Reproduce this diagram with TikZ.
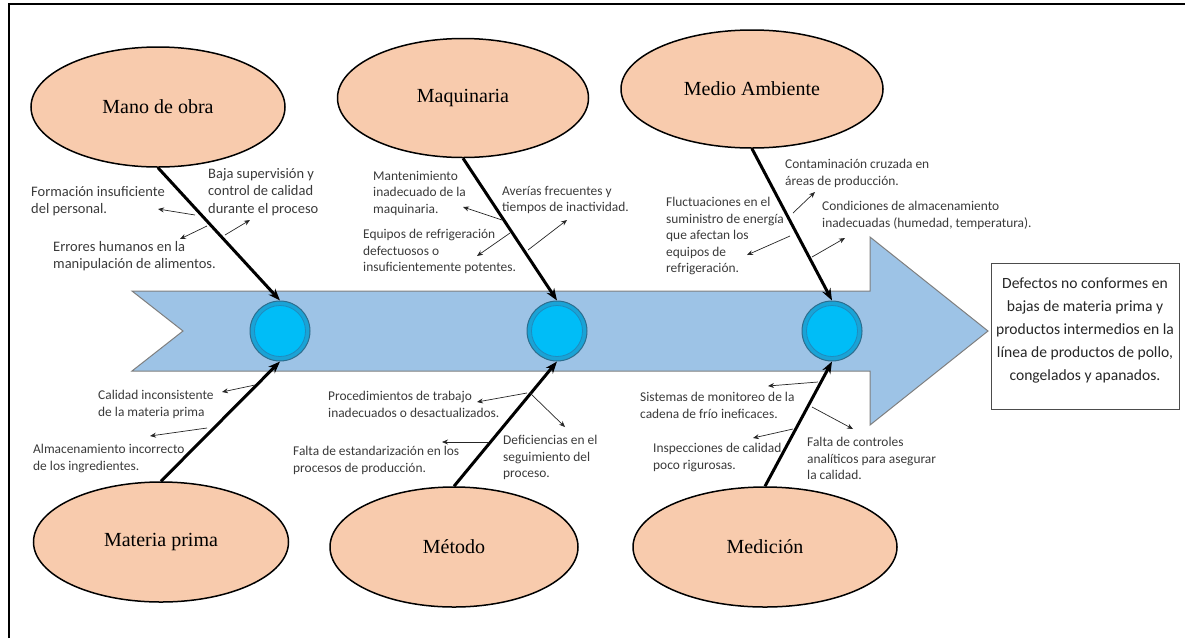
\documentclass[tikz,border=0pt]{standalone}
\usepackage{fontspec}
\setmainfont{Carlito}
\newfontfamily\serifTNR{Liberation Serif}
\usetikzlibrary{shapes.geometric,arrows.meta}
\definecolor{peach}{HTML}{F8CBAD}
\definecolor{arrowblue}{HTML}{9DC3E6}
\definecolor{arrowedge}{HTML}{7F7F7F}
\definecolor{textgray}{HTML}{3A3A3A}
\definecolor{ringblue}{HTML}{1AA3D6}
\definecolor{ringedge}{HTML}{2C6D8E}
\definecolor{innerblue}{HTML}{00BDF7}
\definecolor{inneredge}{HTML}{1F8BBE}
\tikzset{
  cat/.style={ellipse, draw=black, line width=1.5pt, fill=peach, inner sep=0pt,
    font=\serifTNR\fontsize{20}{24}\selectfont},
  lbl/.style={anchor=north west, align=left, inner sep=0pt, text=textgray,
    font=\fontsize{13.4}{16.5}\selectfont},
  lblbig/.style={lbl, font=\fontsize{14.5}{17.6}\selectfont},
  bone/.style={line width=3pt, -{Stealth[length=12pt,width=9pt]}},
  sub/.style={line width=0.7pt, draw=black!85, -{Stealth[length=6pt,width=5pt]}},
  hub/.style={circle, minimum size=60pt, inner sep=0pt, fill=ringblue, draw=ringedge, line width=1pt},
}
\begin{document}
\begin{tikzpicture}[x=1pt,y=-1pt]
\useasboundingbox (0,0) rectangle (1185,638);
% frame (top and left edges visible)
\draw[line width=2.5pt] (9,638) -- (9,4) -- (1185,4);

% main arrow
\draw[fill=arrowblue, draw=arrowedge, line width=1pt]
  (132,291) -- (870,291) -- (870,237) -- (988,331) -- (870,425) -- (870,371)
  -- (132,371) -- (183,331) -- cycle;

% hubs
\node[hub] (c1) at (280,331) {};
\node[hub] (c2) at (557,331) {};
\node[hub] (c3) at (832,331) {};
\foreach \c in {c1,c2,c3}{
  \filldraw[fill=innerblue, draw=inneredge, line width=0.8pt] (\c.center) circle (25.5);
}

% category ellipses
\node[cat, minimum width=254pt, minimum height=120pt] (e1) at (158,107) {Mano de obra};
\node[cat, minimum width=251pt, minimum height=119pt] (e2) at (463,98) {Maquinaria};
\node[cat, minimum width=262pt, minimum height=118pt] (e3) at (752,89) {Medio Ambiente};
\node[cat, minimum width=255pt, minimum height=120pt] (e4) at (161,542) {Materia prima};
\node[cat, minimum width=248pt, minimum height=120pt] (e5) at (454,547) {Método};
\node[cat, minimum width=264pt, minimum height=120pt] (e6) at (765,547) {Medición};

% bones
\draw[bone] (e1.south) -- (c1.north);
\draw[bone] (e2.south) -- (c2.north);
\draw[bone] (e3.south) -- (c3.north);
\draw[bone] (e4.north) -- (c1.south);
\draw[bone] (e5.north) -- (c2.south);
\draw[bone] (e6.north) -- (c3.south);

% effect box
\node[draw=black!70, line width=0.8pt, minimum width=188pt, minimum height=146pt,
  inner sep=0pt] (box) at (1085,336) {};
\node[align=center, inner sep=0pt, text=black!85,
  font=\fontsize{15.6}{23}\selectfont] (boxtext) at (1085,330)
  {Defectos no conformes en\\bajas de materia prima y\\productos intermedios en la\\línea de productos de pollo,\\congelados y apanados.};

% ---- Mano de obra
\node[lblbig] (t11) at (31,186) {Formación insuficiente\\del personal.};
\node[lblbig] (t12) at (53,241) {Errores humanos en la\\manipulación de alimentos.};
\node[lblbig] (t13) at (208,168) {Baja supervisión y\\control de calidad\\durante el proceso};
\coordinate (s11) at (195,215); \coordinate (f11) at (158,209);
\coordinate (s12) at (207,226); \coordinate (f12) at (180,239);
\coordinate (s13) at (225,235); \coordinate (f13) at (250,220);
\draw[sub] (s11) -- (f11);
\draw[sub] (s12) -- (f12);
\draw[sub] (s13) -- (f13);

% ---- Maquinaria
\node[lbl] (t21) at (373,171) {Mantenimiento\\inadecuado de la\\maquinaria.};
\node[lbl] (t22) at (363,229) {Equipos de refrigeración\\defectuosos o\\insuficientemente potentes.};
\node[lbl] (t23) at (502,186) {Averías frecuentes y\\tiempos de inactividad.};
\coordinate (s21) at (502,220); \coordinate (f21) at (463,207);
\coordinate (s22) at (510,233); \coordinate (f22) at (477,256);
\coordinate (s23) at (528,250); \coordinate (f23) at (567,220);
\draw[sub] (s21) -- (f21);
\draw[sub] (s22) -- (f22);
\draw[sub] (s23) -- (f23);

% ---- Medio Ambiente
\node[lbl] (t31) at (785,159) {Contaminación cruzada en\\áreas de producción.};
\node[lbl] (t32) at (666,197) {Fluctuaciones en el\\suministro de energía\\que afectan los\\equipos de\\refrigeración.};
\node[lbl] (t33) at (822,201) {Condiciones de almacenamiento\\inadecuadas (humedad, temperatura).};
\coordinate (s31) at (793,213); \coordinate (f31) at (815,192);
\coordinate (s32) at (790,236); \coordinate (f32) at (747,255);
\coordinate (s33) at (812,257); \coordinate (f33) at (845,238);
\draw[sub] (s31) -- (f31);
\draw[sub] (s32) -- (f32);
\draw[sub] (s33) -- (f33);

% ---- Materia prima
\node[lbl] (t41) at (98,390) {Calidad inconsistente\\de la materia prima};
\node[lbl] (t42) at (33,444) {Almacenamiento incorrecto\\de los ingredientes.};
\coordinate (s41) at (255,385); \coordinate (f41) at (222,392);
\coordinate (s42) at (207,428); \coordinate (f42) at (150,436);
\draw[sub] (s41) -- (f41);
\draw[sub] (s42) -- (f42);

% ---- Método
\node[lbl] (t51) at (328,391) {Procedimientos de trabajo\\inadecuados o desactualizados.};
\node[lbl] (t52) at (293,446) {Falta de estandarización en los\\procesos de producción.};
\node[lbl] (t53) at (503,435) {Deficiencias en el\\seguimiento del\\proceso.};
\coordinate (s51) at (527,393); \coordinate (f51) at (477,402);
\coordinate (s52) at (488,442); \coordinate (f52) at (442,442);
\coordinate (s53) at (530,393); \coordinate (f53) at (565,427);
\draw[sub] (s51) -- (f51);
\draw[sub] (s52) -- (f52);
\draw[sub] (s53) -- (f53);

% ---- Medición
\node[lbl] (t61) at (640,392) {Sistemas de monitoreo de la\\cadena de frío ineficaces.};
\node[lbl] (t62) at (653,443) {Inspecciones de calidad\\poco rigurosas.};
\node[lbl] (t63) at (807,437) {Falta de controles\\analíticos para asegurar\\la calidad.};
\coordinate (s61) at (818,382); \coordinate (f61) at (768,386);
\coordinate (s62) at (793,429); \coordinate (f62) at (753,438);
\coordinate (s63) at (812,407); \coordinate (f63) at (853,429);
\draw[sub] (s61) -- (f61);
\draw[sub] (s62) -- (f62);
\draw[sub] (s63) -- (f63);
\end{tikzpicture}
\end{document}
